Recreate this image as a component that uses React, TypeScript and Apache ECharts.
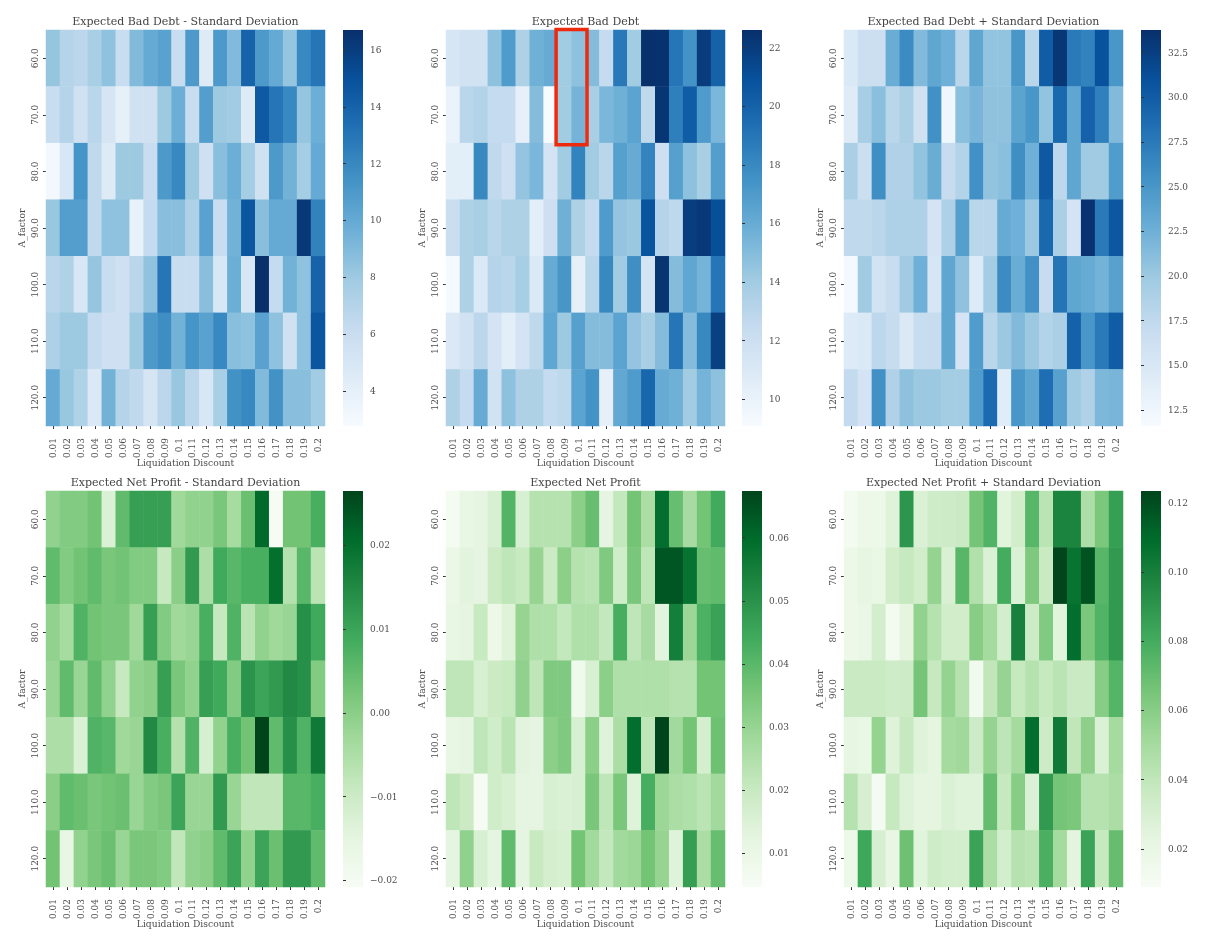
import React, { useEffect, useRef } from "react";
import * as echarts from "echarts";

const discounts = ["0.01","0.02","0.03","0.04","0.05","0.06","0.07","0.08","0.09","0.1","0.11","0.12","0.13","0.14","0.15","0.16","0.17","0.18","0.19","0.2"];
const aFactors = ["60.0","70.0","80.0","90.0","100.0","110.0","120.0"];

const debtMinus = [
  [8.3,7,6.7,7.5,8.5,6,9,10,10.5,6,11,4.5,11,9,14,11,10,8.3,12,13],
  [6,7,5.5,6.8,5.2,4,5.5,5.5,8,9.7,6,10.7,8,7.8,4.5,14.5,13,12,8.3,9.7],
  [3.1,5,11.3,6.5,4.5,8,8,6,11,12,8,5.7,8.7,9.7,7.7,5.5,11,9.5,7.7,10],
  [8.2,10.7,10.7,6.5,8.5,8.5,3.8,6.3,8.7,8.7,7.3,10.5,6,9.5,14.7,8.7,10,10,16.3,12.3],
  [6.8,7.2,5,8.3,6,5.7,6.8,8.4,13,6,6,8.7,5,9.7,5,16.7,6.3,9.5,8.5,14],
  [7.3,8,8,6.3,5.7,5.7,8,11,11.7,9.5,11.3,10.5,12,8.7,8.5,10.5,8.5,5.5,8.5,14.7],
  [10,8.2,7.2,4.7,9.5,7,6.5,5.2,6.7,8.2,6.7,5,7.5,11.5,12,9,11.5,8.7,8.7,7.8],
];
const debtMean = [
  [11.3,11.7,11.7,14.7,17,13.5,15.7,16,14,14.7,15,12.5,18.8,14,22.6,22.5,19,17.5,22,20],
  [10,13,13.3,12.5,12.5,10.2,15,9.1,14,15.5,13.7,15.3,15.7,16.5,12.7,22.3,18.5,20.3,17,15.3],
  [10.5,10.5,18,12.7,11.9,14.5,15.3,11.5,14,18.3,14,13,16.7,16,18.3,12,16.7,14.7,13.7,16.8],
  [12.2,13.5,13.7,13,13.5,13.5,10.5,12,15.7,13.5,12.5,17,14.5,14.3,20.8,13.2,12.8,21.9,22.2,21],
  [9.2,13.5,11,13.2,13,13.8,11,16,17.3,10.3,13,18,14,17.7,11.5,22.4,15,16.3,15.5,19],
  [11,11.7,12.9,11.5,10.5,11.5,12.8,16.3,14.2,16.7,15,15,16.5,14.5,13.7,15,19,15,18,21.8],
  [13.5,12.5,16,11.7,14.7,13.5,13.5,12.5,12.8,16.5,17.5,10.2,16.2,17,19.8,16,15.7,14,15.5,14.7],
];
const debtPlus = [
  [14.8,16.5,16.5,22.8,26,21.5,23.5,22.5,18,23.5,20.5,20.5,25,18,30,33.2,27.5,26.8,31,25],
  [14.3,19.3,21,18,19,16,25.5,12.5,21,22,20.7,20.7,23.7,25,20.5,29,23.5,29.5,27,21.5],
  [19,16.5,25.7,18.7,18.7,20.5,22.8,17,18.5,25.5,20.5,21,25.7,22.5,30.3,17.8,23.5,19.8,19.8,24.5],
  [17.5,17.5,18,18.8,18.8,18.8,15.5,18.8,24.2,18,18,23,22.5,20,29,19,15.5,33.5,27.5,30.5],
  [12,19.8,15.8,16.8,19.8,22.5,15.3,23.5,20.7,14.5,19.5,26,22.8,25.5,17,28,23.5,23,22.2,24],
  [14.5,14.8,17.8,17,14.7,16.8,17,23.5,15.5,24.5,18,20,21.5,20,18.5,19,29.5,25,27.5,30],
  [17.3,15.5,25.5,18.7,20.8,20,20,19.5,19.5,24.5,28.8,14.2,25,23.5,28.5,24,19.8,18.7,21.7,22],
];
const profitMinus = [
  [-.001,.001,.001,.003,-.013,.005,.011,.011,.011,-.003,-.001,-.001,.002,-.004,.004,.021,-.0205,.003,.003,.008],
  [.005,.001,.003,.005,.002,.003,.001,.001,-.009,.000,.012,-.005,.009,.006,.008,.008,.020,-.006,.006,-.007],
  [-.001,-.004,.007,.003,.002,.002,-.003,.011,.001,-.003,-.002,.008,-.009,.007,-.007,-.001,-.003,-.002,.014,.009],
  [-.002,.005,-.002,.005,-.001,-.009,-.001,.000,.011,.002,-.001,.011,.009,.001,.013,.010,.012,.015,.014,.001],
  [-.005,-.005,-.013,.007,.006,-.003,-.002,.015,.008,-.006,.007,-.012,-.001,.008,.003,.0265,.005,.014,.007,.018],
  [.000,.005,.004,.002,.003,.004,-.002,.001,.002,.010,-.002,-.002,.012,-.002,-.008,-.008,-.008,.006,.006,.008],
  [.003,-.016,-.001,.002,.004,-.002,.002,.002,.001,-.008,-.001,.000,.005,.010,-.001,.010,.004,.012,.012,.005],
];
const profitMean = [
  [.006,.011,.012,.016,.041,.016,.024,.024,.024,.032,.038,.012,.021,.036,.026,.059,.038,.027,.036,.044],
  [.01,.013,.012,.019,.022,.02,.03,.019,.032,.024,.023,.034,.018,.035,.022,.064,.064,.058,.038,.039],
  [.011,.012,.02,.009,.014,.03,.025,.025,.021,.025,.025,.021,.043,.022,.027,.013,.055,.029,.042,.046],
  [.022,.022,.016,.019,.02,.031,.022,.034,.034,.008,.016,.032,.025,.025,.025,.025,.024,.024,.036,.036],
  [.011,.012,.022,.018,.023,.013,.012,.032,.034,.016,.032,.014,.026,.059,.022,.0674,.028,.036,.017,.037],
  [.022,.019,.005,.018,.016,.012,.012,.016,.015,.016,.035,.022,.035,.014,.043,.029,.026,.025,.023,.028],
  [.012,.031,.016,.012,.039,.012,.02,.017,.016,.036,.028,.021,.028,.029,.036,.03,.014,.047,.026,.038],
];
const profitPlus = [
  [.012,.017,.018,.026,.09,.028,.034,.035,.036,.066,.076,.025,.033,.074,.042,.098,.098,.047,.064,.086],
  [.017,.022,.02,.033,.038,.033,.056,.029,.074,.046,.028,.08,.028,.063,.036,.123,.106,.118,.074,.088],
  [.017,.019,.032,.012,.023,.057,.044,.033,.033,.06,.05,.032,.1,.035,.062,.025,.108,.064,.076,.088],
  [.036,.036,.036,.034,.035,.066,.038,.056,.044,.014,.04,.055,.038,.044,.038,.042,.036,.036,.06,.075],
  [.022,.02,.056,.026,.038,.026,.023,.05,.052,.035,.056,.041,.05,.108,.035,.103,.04,.058,.028,.05],
  [.044,.03,.011,.038,.027,.023,.023,.028,.026,.026,.07,.038,.06,.028,.088,.066,.064,.044,.044,.048],
  [.018,.082,.03,.021,.068,.025,.034,.032,.032,.084,.048,.032,.044,.042,.078,.05,.024,.084,.038,.07],
];

const blues = ["#f7fbff","#deebf7","#c6dbef","#9ecae1","#6baed6","#4292c6","#2171b5","#08519c","#08306b"];
const greens = ["#f7fcf5","#e5f5e0","#c7e9c0","#a1d99b","#74c476","#41ab5d","#238b45","#006d2c","#00441b"];

const panels = [
  { title: "Expected Bad Debt - Standard Deviation", data: debtMinus, min: 2.77, max: 16.7, ticks: [4,6,8,10,12,14,16], digits: 0, colors: blues, left: 46, bar: 343, top: 30 },
  { title: "Expected Bad Debt", data: debtMean, min: 9.09, max: 22.6, ticks: [10,12,14,16,18,20,22], digits: 0, colors: blues, left: 446, bar: 742, top: 30 },
  { title: "Expected Bad Debt + Standard Deviation", data: debtPlus, min: 11.6, max: 33.77, ticks: [12.5,15,17.5,20,22.5,25,27.5,30,32.5], digits: 1, colors: blues, left: 844, bar: 1141, top: 30 },
  { title: "Expected Net Profit - Standard Deviation", data: profitMinus, min: -0.0208, max: 0.0265, ticks: [-0.02,-0.01,0,0.01,0.02], digits: 2, colors: greens, left: 46, bar: 343, top: 491 },
  { title: "Expected Net Profit", data: profitMean, min: 0.00466, max: 0.0674, ticks: [0.01,0.02,0.03,0.04,0.05,0.06], digits: 2, colors: greens, left: 446, bar: 742, top: 491 },
  { title: "Expected Net Profit + Standard Deviation", data: profitPlus, min: 0.009, max: 0.1234, ticks: [0.02,0.04,0.06,0.08,0.10,0.12], digits: 2, colors: greens, left: 844, bar: 1141, top: 491 },
];

const highlightBox = [[8, 0, 9, 1]];

const FONT = "DejaVu Serif";
const INK = "#4d4d4d";
const GRID_W = 279;
const GRID_H = 396;
const BAR_W = 20;

export default function App() {
  const ref = useRef<HTMLDivElement>(null);
  useEffect(() => {
    document.body.style.margin = "0";
    const chart = echarts.init(ref.current!, null, { renderer: "svg" });
    const grid: any[] = [], xAxis: any[] = [], yAxis: any[] = [], series: any[] = [], visualMap: any[] = [], title: any[] = [], graphic: any[] = [];
    const tickStyle = { show: true, length: 3, lineStyle: { color: "#333", width: 1 } };
    panels.forEach((p, i) => {
      grid.push({ left: p.left, top: p.top, width: GRID_W, height: GRID_H, show: false });
      xAxis.push({
        type: "category", gridIndex: i, data: discounts, position: "bottom",
        name: "Liquidation Discount", nameLocation: "middle", nameGap: 32, nameMoveOverlap: false,
        nameTextStyle: { fontFamily: FONT, fontSize: 9.2, color: INK },
        axisLine: { show: false }, axisTick: { ...tickStyle, alignWithLabel: true },
        axisLabel: { rotate: 90, interval: 0, margin: 12, fontFamily: FONT, fontSize: 9, color: INK },
        splitLine: { show: false },
      });
      yAxis.push({
        type: "category", gridIndex: i, data: aFactors, inverse: true,
        name: "A_factor", nameLocation: "middle", nameGap: 20, nameMoveOverlap: false,
        nameTextStyle: { fontFamily: FONT, fontSize: 9.2, color: INK },
        axisLine: { show: false }, axisTick: { ...tickStyle, alignWithLabel: true },
        axisLabel: { rotate: 90, interval: 0, margin: 7, fontFamily: FONT, fontSize: 9, color: INK },
        splitLine: { show: false },
      });
      series.push({
        type: "heatmap", xAxisIndex: i, yAxisIndex: i,
        data: p.data.flatMap((row, r) => row.map((v, c) => [c, r, v])),
        progressive: 0,
      });
      visualMap.push({
        type: "continuous", show: false, seriesIndex: i, dimension: 2, min: p.min, max: p.max,
        inRange: { color: p.colors },
      });
      graphic.push({
        type: "rect", silent: true, shape: { x: p.bar, y: p.top, width: BAR_W, height: GRID_H },
        style: {
          fill: new echarts.graphic.LinearGradient(0, 1, 0, 0,
            p.colors.map((color, k) => ({ offset: k / (p.colors.length - 1), color }))),
        },
      });
      title.push({
        text: p.title, left: p.left + GRID_W / 2, top: p.top - 14, textAlign: "center", padding: 0,
        textStyle: { fontFamily: FONT, fontSize: 11, fontWeight: "normal", color: "#444" },
      });
    });
    // colour-bar tick axes, one per panel, after the heatmap grids
    panels.forEach((p, i) => {
      const idx = panels.length + i;
      grid.push({ left: p.bar, top: p.top, width: BAR_W, height: GRID_H, show: false });
      xAxis.push({ type: "value", gridIndex: idx, show: false, min: 0, max: 1 });
      yAxis.push({
        type: "value", gridIndex: idx, position: "right", min: p.min, max: p.max, scale: true,
        axisLine: { show: false }, splitLine: { show: false },
        axisTick: { ...tickStyle, customValues: p.ticks },
        axisLabel: {
          customValues: p.ticks, margin: 7, fontFamily: FONT, fontSize: 9, color: INK, showMinLabel: true, showMaxLabel: true,
          formatter: (v: number) => (v < 0 ? "\u2212" : "") + Math.abs(v).toFixed(p.digits),
        },
      });
    });
    series.push({
      type: "custom", xAxisIndex: 1, yAxisIndex: 1, silent: true, z: 10, clip: false,
      data: highlightBox,
      encode: { x: [0, 2], y: [1, 3] },
      renderItem: (_: any, api: any) => {
        const a = api.coord([api.value(0), api.value(1)]);
        const b = api.coord([api.value(2), api.value(3)]);
        const s = api.size([1, 1]);
        return {
          type: "rect",
          shape: { x: a[0] - s[0] / 2 - 1.5, y: a[1] - s[1] / 2 - 0.5, width: b[0] - a[0] + s[0] + 3, height: b[1] - a[1] + s[1] + 2 },
          style: { fill: "none", stroke: "#ee2a0e", lineWidth: 3.5 },
        };
      },
    });
    chart.setOption({ animation: false, backgroundColor: "#fff", title, grid, xAxis, yAxis, series, visualMap, graphic, tooltip: { show: false } });
    return () => chart.dispose();
  }, []);
  return <div ref={ref} style={{ width: 1223, height: 941, filter: "blur(0.45px)" }} />;
}
